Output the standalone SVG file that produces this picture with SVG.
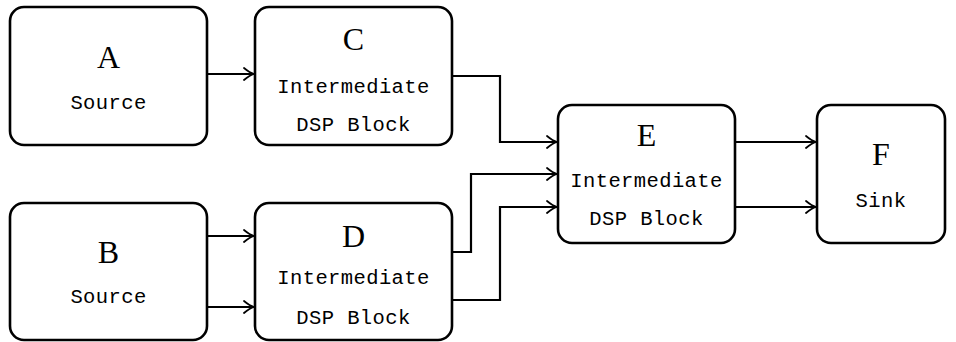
<svg xmlns="http://www.w3.org/2000/svg" width="956" height="342" viewBox="0 0 956 342">
<style>
.box{fill:#fff;stroke:#000;stroke-width:2.6}
.big{font-family:"Liberation Serif","DejaVu Serif",serif;font-size:32px;text-anchor:middle;fill:#000}
.tt{font-family:"Liberation Mono","DejaVu Sans Mono",monospace;font-size:20.5px;letter-spacing:0.4px;text-anchor:middle;fill:#000}
.ln{fill:none;stroke:#000;stroke-width:2.2}
</style>
<defs>
<marker id="ar" viewBox="0 0 12 14" refX="11" refY="7" markerWidth="12" markerHeight="14" markerUnits="userSpaceOnUse" orient="auto">
<path d="M1,1 Q7,6 11,7 Q7,8 1,13" fill="none" stroke="#000" stroke-width="1.8" stroke-linecap="round"/>
</marker>
</defs>
<g id="connectors">
<path class="ln" d="M207,74 H254" marker-end="url(#ar)"/>
<path class="ln" d="M452,76 H500 V142 H557" marker-end="url(#ar)"/>
<path class="ln" d="M452,252 H471 V174 H557" marker-end="url(#ar)"/>
<path class="ln" d="M452,300 H500 V207 H557" marker-end="url(#ar)"/>
<path class="ln" d="M207,236 H254" marker-end="url(#ar)"/>
<path class="ln" d="M207,307 H254" marker-end="url(#ar)"/>
<path class="ln" d="M735,142 H816" marker-end="url(#ar)"/>
<path class="ln" d="M735,207 H816" marker-end="url(#ar)"/>
</g>
<g id="A">
<rect class="box" x="10" y="7" width="197" height="138" rx="14"/>
<text class="big" x="108.5" y="68">A</text>
<text class="tt" x="108.5" y="109">Source</text>
</g>
<g id="C">
<rect class="box" x="255" y="7" width="197" height="138" rx="14"/>
<text class="big" x="353.5" y="50">C</text>
<text class="tt" x="353.5" y="93">Intermediate</text>
<text class="tt" x="353.5" y="131">DSP Block</text>
</g>
<g id="B">
<rect class="box" x="10" y="203" width="197" height="137" rx="14"/>
<text class="big" x="108.5" y="263">B</text>
<text class="tt" x="108.5" y="303">Source</text>
</g>
<g id="D">
<rect class="box" x="255" y="203" width="197" height="137" rx="14"/>
<text class="big" x="353.5" y="247">D</text>
<text class="tt" x="353.5" y="284">Intermediate</text>
<text class="tt" x="353.5" y="324">DSP Block</text>
</g>
<g id="E">
<rect class="box" x="558" y="105" width="177" height="138" rx="14"/>
<text class="big" x="646.5" y="146">E</text>
<text class="tt" x="646.5" y="187">Intermediate</text>
<text class="tt" x="646.5" y="225">DSP Block</text>
</g>
<g id="F">
<rect class="box" x="817" y="105" width="128" height="138" rx="14"/>
<text class="big" x="881" y="165">F</text>
<text class="tt" x="881" y="207">Sink</text>
</g>
</svg>
